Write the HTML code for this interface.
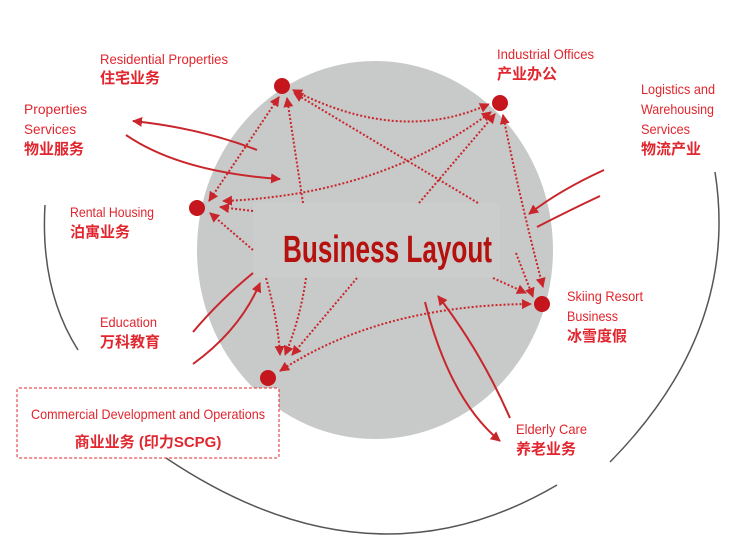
<!DOCTYPE html>
<html><head><meta charset="utf-8"><style>
html,body{margin:0;padding:0;background:#fff;}
svg{display:block;}
.en{font-family:"Liberation Sans Narrow","Liberation Sans",sans-serif;font-size:14px;fill:#e0262e;}
.cn{font-family:"Liberation Sans","Noto Sans CJK SC",sans-serif;font-size:15px;font-weight:bold;fill:#e0262e;}
.d{fill:none;stroke:#c8262b;stroke-width:2;stroke-dasharray:2 2;}
.s{fill:none;stroke:#c8262b;stroke-width:2;}
</style></head><body>
<svg width="740" height="544" viewBox="0 0 740 544" xmlns="http://www.w3.org/2000/svg">
<defs>
<marker id="a" viewBox="0 0 10 10" refX="9" refY="5" markerWidth="5" markerHeight="5" orient="auto-start-reverse"><path d="M0,0L10,5L0,10z" fill="#c8262b"/></marker>
</defs>
<!-- outer arcs -->
<path d="M45,205 Q40,290 78,350" fill="none" stroke="#555" stroke-width="1.5"/>
<path d="M166,458 Q370,595 557,485" fill="none" stroke="#555" stroke-width="1.5"/>
<path d="M715,172 Q740,330 610,462" fill="none" stroke="#555" stroke-width="1.5"/>
<!-- grey circle -->
<ellipse cx="375" cy="250" rx="178" ry="189" fill="#c8c9c9"/>
<rect x="253" y="203" width="247" height="75" fill="#cbcccc"/>
<!-- dotted connectors -->
<path class="d" d="M293,90 Q400,145 489,104" marker-start="url(#a)" marker-end="url(#a)"/>
<path class="d" d="M478,203 L294,93" marker-end="url(#a)"/>
<path class="d" d="M279,97 L209,201" marker-start="url(#a)" marker-end="url(#a)"/>
<path class="d" d="M303,203 L287,98" marker-end="url(#a)"/>
<path class="d" d="M491,112 Q380,195 223,201" marker-start="url(#a)" marker-end="url(#a)"/>
<path class="d" d="M253,211 L220,207" marker-end="url(#a)"/>
<path class="d" d="M253,250 L210,213" marker-end="url(#a)"/>
<path class="d" d="M419,203 L495,114" marker-end="url(#a)"/>
<path class="d" d="M503,115 Q520,200 543,287" marker-start="url(#a)" marker-end="url(#a)"/>
<path class="d" d="M516,253 L533,297" marker-end="url(#a)"/>
<path class="d" d="M493,278 L526,293" marker-end="url(#a)"/>
<path class="d" d="M280,371 Q380,305 531,304" marker-start="url(#a)" marker-end="url(#a)"/>
<path class="d" d="M266,278 Q278,320 280,355" marker-end="url(#a)"/>
<path class="d" d="M306,278 Q300,320 285,355" marker-end="url(#a)"/>
<path class="d" d="M357,278 L292,355" marker-end="url(#a)"/>
<!-- solid arrows -->
<path class="s" d="M257,150 Q200,128 133,121" marker-end="url(#a)"/>
<path class="s" d="M126,135 Q180,172 280,179" marker-end="url(#a)"/>
<path class="s" d="M604,170 Q560,190 529,214" marker-end="url(#a)"/>
<path class="s" d="M537,227 Q570,210 600,196"/>
<path class="s" d="M193,332 Q220,300 253,273"/>
<path class="s" d="M193,364 Q240,330 260,283" marker-end="url(#a)"/>
<path class="s" d="M425,302 Q450,400 500,441" marker-end="url(#a)"/>
<path class="s" d="M510,418 Q480,350 438,296" marker-end="url(#a)"/>
<!-- nodes -->
<circle cx="282" cy="86" r="8" fill="#c4161c"/>
<circle cx="500" cy="103" r="8" fill="#c4161c"/>
<circle cx="197" cy="208" r="8" fill="#c4161c"/>
<circle cx="542" cy="304" r="8" fill="#c4161c"/>
<circle cx="268" cy="378" r="8" fill="#c4161c"/>
<!-- title -->
<text x="283" y="262" textLength="209" lengthAdjust="spacingAndGlyphs" style="font-family:'Liberation Sans Narrow','Liberation Sans',sans-serif;font-size:38px;font-weight:bold;fill:#b5120f;">Business Layout</text>
<!-- labels -->
<text class="en" x="100" y="64" textLength="128" lengthAdjust="spacingAndGlyphs">Residential Properties</text>
<text class="cn" x="100" y="83">住宅业务</text>
<text class="en" x="497" y="59" textLength="97" lengthAdjust="spacingAndGlyphs">Industrial Offices</text>
<text class="cn" x="497" y="79">产业办公</text>
<text class="en" x="24" y="114" textLength="63" lengthAdjust="spacingAndGlyphs">Properties</text>
<text class="en" x="24" y="134" textLength="52" lengthAdjust="spacingAndGlyphs">Services</text>
<text class="cn" x="24" y="154">物业服务</text>
<text class="en" x="641" y="94" textLength="74" lengthAdjust="spacingAndGlyphs">Logistics and</text>
<text class="en" x="641" y="114" textLength="73" lengthAdjust="spacingAndGlyphs">Warehousing</text>
<text class="en" x="641" y="134" textLength="49" lengthAdjust="spacingAndGlyphs">Services</text>
<text class="cn" x="641" y="154">物流产业</text>
<text class="en" x="70" y="217" textLength="84" lengthAdjust="spacingAndGlyphs">Rental Housing</text>
<text class="cn" x="70" y="237">泊寓业务</text>
<text class="en" x="567" y="301" textLength="76" lengthAdjust="spacingAndGlyphs">Skiing Resort</text>
<text class="en" x="567" y="321" textLength="51" lengthAdjust="spacingAndGlyphs">Business</text>
<text class="cn" x="567" y="341">冰雪度假</text>
<text class="en" x="100" y="327" textLength="57" lengthAdjust="spacingAndGlyphs">Education</text>
<text class="cn" x="100" y="347">万科教育</text>
<rect x="17" y="388" width="262" height="70" rx="2" fill="#fff" stroke="#e0262e" stroke-width="1" stroke-dasharray="3 2"/>
<text class="en" x="31" y="419" textLength="234" lengthAdjust="spacingAndGlyphs">Commercial Development and Operations</text>
<text class="cn" x="148" y="447" text-anchor="middle">商业业务 (印力SCPG)</text>
<text class="en" x="516" y="434" textLength="71" lengthAdjust="spacingAndGlyphs">Elderly Care</text>
<text class="cn" x="516" y="454">养老业务</text>
</svg>
</body></html>
